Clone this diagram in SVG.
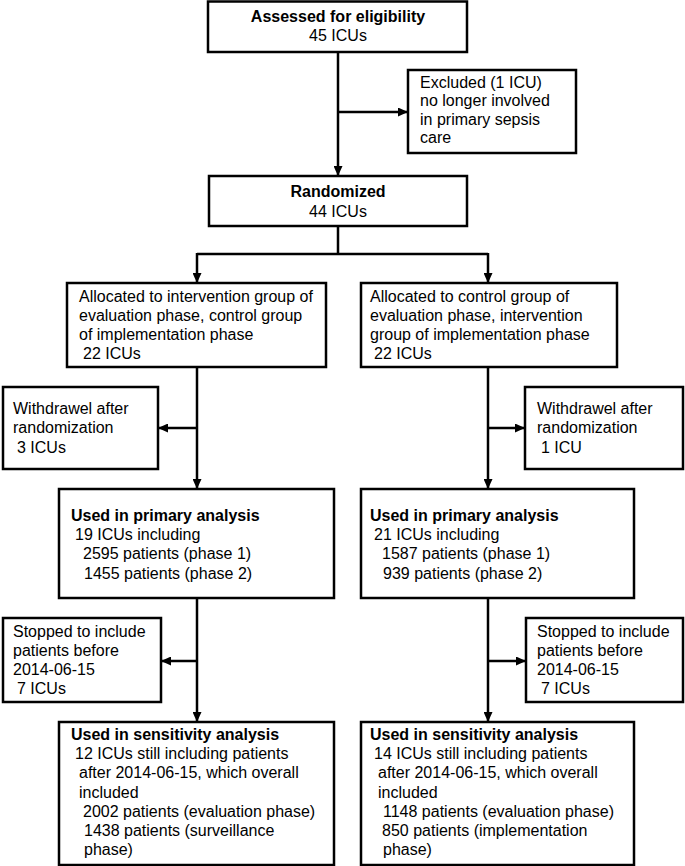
<svg xmlns="http://www.w3.org/2000/svg" width="685" height="866" viewBox="0 0 685 866">
<style>
.box{fill:#fff;stroke:#000;stroke-width:2.5}
text{font-family:"Liberation Sans",Arial,sans-serif;font-size:16px;fill:#000}
.b{font-weight:bold}
.c{text-anchor:middle}
.ln{fill:none;stroke:#000;stroke-width:2.5}
</style>
<defs>
<marker id="ah" markerUnits="userSpaceOnUse" markerWidth="10" markerHeight="9" refX="10" refY="4.5" orient="auto">
<path d="M0,0 L10,4.5 L0,9 z" fill="#000"/>
</marker>
</defs>
<rect width="685" height="866" fill="#fff"/>
<g id="connectors">
<path class="ln" d="M338,52 V176" marker-end="url(#ah)"/>
<path class="ln" d="M338,112 H408" marker-end="url(#ah)"/>
<path class="ln" d="M338,226 V254 M197,254 H488"/>
<path class="ln" d="M197,253 V283" marker-end="url(#ah)"/>
<path class="ln" d="M488,253 V283" marker-end="url(#ah)"/>
<path class="ln" d="M197,367 V489" marker-end="url(#ah)"/>
<path class="ln" d="M197,428 H158" marker-end="url(#ah)"/>
<path class="ln" d="M488,367 V489" marker-end="url(#ah)"/>
<path class="ln" d="M488,428 H525" marker-end="url(#ah)"/>
<path class="ln" d="M197,598 V722" marker-end="url(#ah)"/>
<path class="ln" d="M197,661 H161" marker-end="url(#ah)"/>
<path class="ln" d="M488,598 V722" marker-end="url(#ah)"/>
<path class="ln" d="M488,661 H526" marker-end="url(#ah)"/>
</g>
<g id="assessed">
<rect class="box" x="208" y="1.5" width="259" height="50.5"/>
<text class="b c" x="338" y="22">Assessed for eligibility</text>
<text class="c" x="338" y="41">45 ICUs</text>
</g>
<g id="excluded">
<rect class="box" x="408" y="70" width="168" height="83"/>
<text x="420" y="88">Excluded (1 ICU)</text>
<text x="420" y="106">no longer involved</text>
<text x="420" y="125">in primary sepsis</text>
<text x="420" y="143">care</text>
</g>
<g id="randomized">
<rect class="box" x="209" y="176" width="258" height="50"/>
<text class="b c" x="338" y="197">Randomized</text>
<text class="c" x="338" y="217">44 ICUs</text>
</g>
<g id="alloc-left">
<rect class="box" x="67" y="283" width="259" height="84"/>
<text x="79" y="302">Allocated to intervention group of</text>
<text x="79" y="321">evaluation phase, control group</text>
<text x="79" y="340">of implementation phase</text>
<text x="83" y="359">22 ICUs</text>
</g>
<g id="alloc-right">
<rect class="box" x="361" y="283" width="256" height="84"/>
<text x="370" y="302">Allocated to control group of</text>
<text x="370" y="321">evaluation phase, intervention</text>
<text x="370" y="340">group of implementation phase</text>
<text x="374" y="359">22 ICUs</text>
</g>
<g id="withdraw-left">
<rect class="box" x="3" y="387" width="155" height="82"/>
<text x="13" y="414">Withdrawel after</text>
<text x="13" y="433">randomization</text>
<text x="17" y="453">3 ICUs</text>
</g>
<g id="withdraw-right">
<rect class="box" x="525" y="387" width="158" height="82"/>
<text x="537" y="414">Withdrawel after</text>
<text x="537" y="433">randomization</text>
<text x="541" y="453">1 ICU</text>
</g>
<g id="primary-left">
<rect class="box" x="59" y="489" width="275" height="109"/>
<text class="b" x="71" y="521">Used in primary analysis</text>
<text x="75" y="540">19 ICUs including</text>
<text x="83" y="559">2595 patients (phase 1)</text>
<text x="84" y="579">1455 patients (phase 2)</text>
</g>
<g id="primary-right">
<rect class="box" x="361" y="489" width="273" height="109"/>
<text class="b" x="370" y="521">Used in primary analysis</text>
<text x="374" y="540">21 ICUs including</text>
<text x="382" y="559">1587 patients (phase 1)</text>
<text x="383" y="579">939 patients (phase 2)</text>
</g>
<g id="stopped-left">
<rect class="box" x="3" y="618" width="158" height="84"/>
<text x="13" y="637">Stopped to include</text>
<text x="13" y="656">patients before</text>
<text x="13" y="675">2014-06-15</text>
<text x="17" y="694">7 ICUs</text>
</g>
<g id="stopped-right">
<rect class="box" x="526" y="618" width="157" height="84"/>
<text x="537" y="637">Stopped to include</text>
<text x="537" y="656">patients before</text>
<text x="537" y="675">2014-06-15</text>
<text x="541" y="694">7 ICUs</text>
</g>
<g id="sensitivity-left">
<rect class="box" x="59" y="722" width="275" height="143"/>
<text class="b" x="71" y="740">Used in sensitivity analysis</text>
<text x="75" y="759">12 ICUs still including patients</text>
<text x="79" y="778">after 2014-06-15, which overall</text>
<text x="79" y="798">included</text>
<text x="83" y="817">2002 patients (evaluation phase)</text>
<text x="84" y="836">1438 patients (surveillance</text>
<text x="84" y="855">phase)</text>
</g>
<g id="sensitivity-right">
<rect class="box" x="361" y="722" width="273" height="143"/>
<text class="b" x="370" y="740">Used in sensitivity analysis</text>
<text x="374" y="759">14 ICUs still including patients</text>
<text x="378" y="778">after 2014-06-15, which overall</text>
<text x="378" y="798">included</text>
<text x="383" y="817">1148 patients (evaluation phase)</text>
<text x="382" y="836">850 patients (implementation</text>
<text x="383" y="855">phase)</text>
</g>
</svg>
